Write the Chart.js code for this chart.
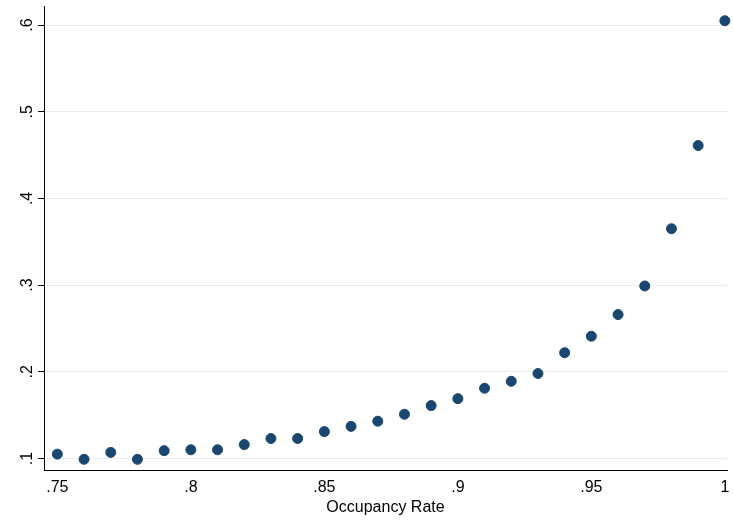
<!DOCTYPE html>
<html><head><meta charset="utf-8">
<script src="https://cdn.jsdelivr.net/npm/chart.js@4/dist/chart.umd.min.js"></script>
<style>html,body{margin:0;background:#fff}#wrap{width:733px;height:525px}</style>
</head><body><div id="wrap"><canvas id="c"></canvas></div>
<script>
var occupancy = [.75,.76,.77,.78,.79,.80,.81,.82,.83,.84,.85,.86,.87,.88,.89,.90,.91,.92,.93,.94,.95,.96,.97,.98,.99,1.0];
var values = [0.105,0.099,0.107,0.099,0.109,0.110,0.110,0.116,0.123,0.123,0.131,0.137,0.143,0.151,0.161,0.169,0.181,0.189,0.198,0.222,0.241,0.266,0.299,0.365,0.461,0.605];
var xTicks = [.75,.8,.85,.9,.95,1];
var yTicks = [.1,.2,.3,.4,.5,.6];

function fmt(v) {
  var s = (Math.round(v * 100) / 100).toString();
  return s.replace(/^0\./, '.');
}

// y tick labels drawn rotated counter-clockwise, Stata style
var yLabels = {
  id: 'yLabels',
  afterDraw: function(chart) {
    var ctx = chart.ctx, y = chart.scales.y, left = chart.chartArea.left;
    ctx.save();
    ctx.fillStyle = '#000';
    ctx.font = '16px "Liberation Sans"';
    ctx.textAlign = 'center';
    ctx.textBaseline = 'bottom';
    yTicks.forEach(function(v) {
      ctx.save();
      ctx.translate(left - 8, y.getPixelForValue(v));
      ctx.rotate(-Math.PI / 2);
      ctx.fillText(fmt(v), 0, 0);
      ctx.restore();
    });
    ctx.restore();
  }
};

new Chart(document.getElementById('c'), {
  type: 'scatter',
  data: { datasets: [{
    data: occupancy.map(function(x, i) { return { x: x, y: values[i] }; }),
    backgroundColor: '#1a476f', borderColor: '#1a476f', pointRadius: 5, clip: false
  }]},
  options: {
    responsive: true, maintainAspectRatio: false, animation: false,
    layout: { padding: { top: 5, right: 0, left: 38, bottom: 8 } },
    plugins: { legend: { display: false }, tooltip: { enabled: false } },
    scales: {
      x: {
        type: 'linear', min: 0.745, max: 1.0008,
        afterBuildTicks: function(a) { a.ticks = xTicks.map(function(v) { return { value: v }; }); },
        grid: { display: false, drawTicks: true, tickLength: 6, tickColor: '#000' },
        border: { color: '#000' },
        ticks: { color: '#000', font: { family: 'Liberation Sans', size: 16 }, callback: fmt, padding: 1 },
        title: { display: true, text: 'Occupancy Rate', color: '#000', font: { family: 'Liberation Sans', size: 16 }, padding: 0 }
      },
      y: {
        min: 0.086, max: 0.622,
        afterBuildTicks: function(a) { a.ticks = yTicks.map(function(v) { return { value: v }; }); },
        grid: { color: '#e6ecf0', tickLength: 6, tickColor: '#000' },
        border: { color: '#000' },
        ticks: { display: false }
      }
    }
  },
  plugins: [yLabels]
});
</script></body></html>
